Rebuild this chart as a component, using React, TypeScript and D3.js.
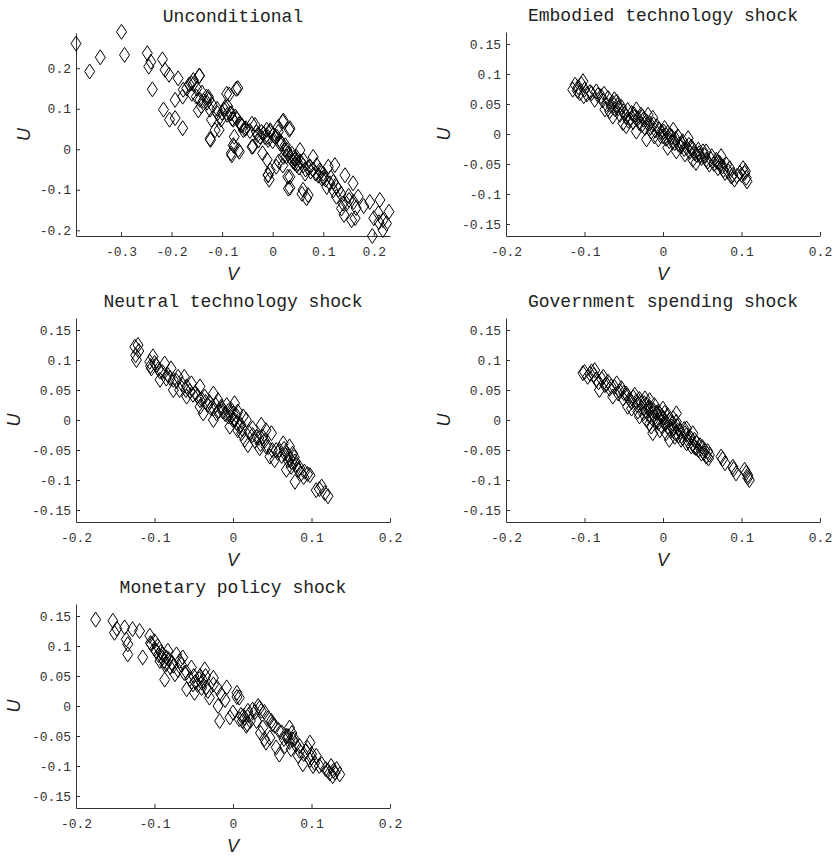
import React, { useEffect, useRef } from "react";
import * as d3 from "d3";

// titles of the five panels
const titles = [
  "Unconditional",
  "Embodied technology shock",
  "Neutral technology shock",
  "Government spending shock",
  "Monetary policy shock",
];

// [V, U] pairs
const unconditional: [number, number][] = [
  [-0.389, 0.261], [-0.362, 0.192], [-0.341, 0.227], [-0.299, 0.29], [-0.293, 0.233],
  [-0.248, 0.237], [-0.245, 0.204], [-0.241, 0.216], [-0.238, 0.148], [-0.218, 0.222],
  [-0.213, 0.196], [-0.205, 0.184], [-0.216, 0.098], [-0.204, 0.073], [-0.193, 0.077],
  [-0.193, 0.122], [-0.178, 0.052], [-0.187, 0.175], [-0.177, 0.147], [-0.178, 0.13],
  [-0.161, 0.163], [-0.157, 0.171], [-0.145, 0.181], [-0.151, 0.13], [-0.144, 0.122],
  [-0.141, 0.106], [-0.131, 0.13], [-0.126, 0.122], [-0.124, 0.098], [-0.121, 0.073],
  [-0.123, 0.023], [-0.109, 0.089], [-0.106, 0.048], [-0.102, 0.073], [-0.096, 0.098],
  [-0.086, 0.135], [-0.069, 0.151], [-0.089, 0.106], [-0.082, 0.089], [-0.078, 0.073],
  [-0.074, 0.081], [-0.082, -0.01], [-0.076, 0.007], [-0.066, -0.006], [-0.076, 0.031],
  [-0.063, 0.06], [-0.053, 0.052], [-0.039, 0.007], [-0.035, 0.06], [-0.032, 0.043],
  [-0.025, 0.031], [-0.018, 0.039], [-0.012, 0.048], [-0.009, 0.023], [-0.005, 0.043],
  [0.001, 0.035], [-0.011, -0.026], [-0.009, -0.063], [-0.007, -0.075], [0.008, 0.031],
  [0.011, 0.043], [0.02, 0.068], [0.034, 0.052], [0.014, 0.015], [0.024, -0.002],
  [0.027, -0.018], [0.03, -0.068], [0.034, -0.095], [0.041, -0.022],
  [-0.145, 0.182], [-0.157, 0.161], [-0.16, 0.137], [-0.137, 0.12], [-0.127, 0.129],
  [-0.147, 0.096], [-0.124, 0.026], [-0.114, 0.047], [-0.104, 0.08], [-0.091, 0.137],
  [-0.072, 0.149], [-0.094, 0.104], [-0.084, 0.088], [-0.071, 0.075], [-0.061, 0.059],
  [-0.081, -0.015], [-0.068, -0.002], [-0.078, 0.01], [-0.058, 0.047], [-0.041, 0.063],
  [-0.041, 0.006], [-0.028, 0.022], [-0.022, 0.043], [-0.009, 0.03], [-0.005, 0.047],
  [0.005, 0.03], [0.011, 0.055], [0.021, 0.071], [0.033, 0.048], [-0.009, -0.064],
  [-0.005, -0.052], [0.007, -0.043], [0.018, 0.014], [0.028, -0.002], [0.021, -0.019],
  [0.034, -0.068], [0.031, -0.097], [0.038, -0.011], [0.047, -0.019], [0.054, -0.002],
  [0.061, -0.027], [0.067, -0.121], [0.07, -0.113], [0.08, -0.019], [0.087, -0.039],
  [0.093, -0.052], [0.1, -0.06], [0.11, -0.043], [0.123, -0.039], [0.113, -0.084],
  [0.12, -0.101], [0.126, -0.117], [0.136, -0.146], [0.141, -0.162], [0.146, -0.134],
  [0.156, -0.175], [0.163, -0.17], [0.143, -0.064], [0.159, -0.084], [0.169, -0.117],
  [0.192, -0.13], [0.212, -0.125], [0.209, -0.158], [0.218, -0.175], [0.23, -0.154],
  [0.197, -0.214], [0.218, -0.199], [0.225, -0.183], [0.107, -0.093], [0.097, -0.072],
  [0.074, -0.043], [0.044, -0.035], [0.064, -0.06], [0.126, -0.093], [0.139, -0.134],
  [0.151, -0.125],
  [0.03, -0.01], [0.035, -0.02], [0.04, -0.03], [0.045, -0.025], [0.05, -0.035],
  [0.055, -0.03], [0.048, -0.04], [0.052, -0.045], [0.06, -0.04], [0.065, -0.05],
  [0.07, -0.045], [0.075, -0.055], [0.08, -0.05], [0.085, -0.06], [0.09, -0.065],
  [0.095, -0.055], [0.1, -0.07], [0.105, -0.075], [0.115, -0.07], [0.12, -0.08],
  [0.025, 0.01], [0.015, 0.02], [0.0, 0.02], [-0.015, 0.03], [-0.03, 0.035],
  [-0.045, 0.045], [-0.055, 0.05], [-0.065, 0.065], [-0.08, 0.075], [-0.09, 0.085],
  [-0.1, 0.09], [-0.11, 0.1], [-0.12, 0.11], [-0.13, 0.115], [-0.14, 0.14],
  [-0.15, 0.15], [-0.165, 0.16], [-0.17, 0.15], [0.13, -0.1], [0.135, -0.11],
  [0.15, -0.115], [0.16, -0.13], [0.165, -0.145], [0.18, -0.14], [0.2, -0.17],
  [0.21, -0.18], [0.012, -0.03], [0.02, -0.04], [-0.02, -0.01], [0.06, -0.1],
  [0.058, -0.11],
];

const embodied: [number, number][] = [
  [-0.115, 0.074], [-0.112, 0.082], [-0.108, 0.078], [-0.102, 0.088], [-0.1, 0.074],
  [-0.101, 0.063], [-0.106, 0.068], [-0.085, 0.071], [-0.087, 0.057], [-0.079, 0.063],
  [-0.07, 0.06], [-0.072, 0.049], [-0.068, 0.038], [-0.064, 0.052], [-0.059, 0.054],
  [-0.057, 0.043], [-0.055, 0.032], [-0.051, 0.038], [-0.051, 0.018], [-0.047, 0.029],
  [-0.042, 0.024], [-0.04, 0.035], [-0.036, 0.029], [-0.034, 0.041], [-0.03, 0.018],
  [-0.028, 0.032], [-0.025, 0.024], [-0.023, 0.01], [-0.019, 0.032], [-0.017, 0.018],
  [-0.013, 0.027], [-0.015, 0.004], [-0.008, 0.013], [-0.006, -0.009], [-0.002, 0.004],
  [0.0, -0.004], [0.002, 0.01], [0.006, 0.002], [0.008, -0.012], [0.011, -0.004],
  [0.006, -0.023], [0.015, -0.015], [0.019, -0.004], [0.023, -0.021], [0.025, -0.012],
  [0.03, -0.023], [0.032, -0.007], [0.028, -0.034], [0.036, -0.021], [0.04, -0.032],
  [0.045, -0.026], [0.047, -0.037], [0.042, -0.048], [0.051, -0.029], [0.055, -0.043],
  [0.059, -0.051], [0.062, -0.037], [0.068, -0.043], [0.072, -0.048], [0.07, -0.057],
  [0.076, -0.054], [0.081, -0.051], [0.079, -0.065], [0.085, -0.057], [0.087, -0.071],
  [0.091, -0.076], [0.098, -0.065], [0.102, -0.057], [0.104, -0.065], [0.106, -0.073],
  [0.107, -0.079], [0.074, -0.037], [0.055, -0.029], [0.038, -0.043], [0.017, -0.029],
  [0.013, 0.007], [-0.011, -0.004], [-0.021, -0.009], [-0.034, 0.004], [-0.047, 0.013],
  [-0.064, 0.029], [-0.074, 0.041], [-0.091, 0.068],
  [-0.109, 0.072], [-0.104, 0.083], [-0.097, 0.066], [-0.093, 0.07], [-0.083, 0.065],
  [-0.077, 0.056], [-0.075, 0.067], [-0.066, 0.047], [-0.062, 0.058], [-0.061, 0.041],
  [-0.058, 0.048], [-0.053, 0.045], [-0.049, 0.034], [-0.045, 0.04], [-0.044, 0.022],
  [-0.038, 0.02], [-0.037, 0.033], [-0.032, 0.026], [-0.027, 0.015], [-0.026, 0.029],
  [-0.021, 0.021], [-0.016, 0.011], [-0.012, 0.016], [-0.01, 0.006], [-0.005, 0.008],
  [-0.003, -0.003], [0.001, 0.004], [0.004, -0.008], [0.009, -0.002], [0.012, -0.013],
  [0.016, -0.008], [0.02, -0.018], [0.024, -0.016], [0.027, -0.025], [0.033, -0.018],
  [0.034, -0.03], [0.038, -0.025], [0.043, -0.035], [0.046, -0.032], [0.049, -0.04],
  [0.053, -0.036], [0.057, -0.046], [0.061, -0.042], [0.065, -0.05], [0.069, -0.047],
  [0.073, -0.052], [0.077, -0.06], [0.083, -0.062], [0.089, -0.068], [0.094, -0.07],
  [0.1, -0.068], [0.105, -0.062],
];

const neutral: [number, number][] = [
  [-0.125, 0.122], [-0.121, 0.125], [-0.124, 0.108], [-0.123, 0.1], [-0.106, 0.097],
  [-0.104, 0.086], [-0.102, 0.106], [-0.098, 0.092], [-0.093, 0.081], [-0.087, 0.094],
  [-0.085, 0.069], [-0.079, 0.086], [-0.076, 0.067], [-0.07, 0.072], [-0.068, 0.05],
  [-0.062, 0.072], [-0.059, 0.056], [-0.053, 0.061], [-0.051, 0.042], [-0.042, 0.056],
  [-0.042, 0.033], [-0.036, 0.039], [-0.038, 0.011], [-0.032, 0.025], [-0.025, 0.044],
  [-0.025, 0.019], [-0.021, 0.011], [-0.019, 0.033], [-0.015, 0.022], [-0.013, 0.014],
  [-0.008, 0.025], [-0.006, 0.006], [-0.004, -0.011], [-0.002, 0.017], [0.002, 0.028],
  [0.002, 0.0], [0.006, 0.014], [0.006, -0.017], [0.011, -0.022], [0.013, 0.006],
  [0.017, 0.0], [0.015, -0.033], [0.019, -0.042], [0.025, -0.014], [0.03, -0.028],
  [0.036, -0.008], [0.038, -0.028], [0.034, -0.047], [0.042, -0.044], [0.049, -0.022],
  [0.047, -0.061], [0.053, -0.067], [0.059, -0.05], [0.064, -0.039], [0.066, -0.056],
  [0.07, -0.067], [0.072, -0.044], [0.074, -0.078], [0.076, -0.056], [0.079, -0.069],
  [0.079, -0.103], [0.083, -0.083], [0.087, -0.089], [0.091, -0.086], [0.098, -0.092],
  [0.106, -0.117], [0.113, -0.111], [0.121, -0.127], [-0.025, 0.0], [-0.042, 0.022],
  [-0.059, 0.039], [-0.076, 0.05], [-0.093, 0.067], [0.0, 0.011], [0.008, -0.011],
  [0.042, -0.017], [0.055, -0.05], [0.068, -0.083],
  [-0.12, 0.115], [-0.105, 0.09], [-0.1, 0.095], [-0.095, 0.085], [-0.09, 0.08],
  [-0.083, 0.075], [-0.08, 0.07], [-0.072, 0.065], [-0.065, 0.06], [-0.06, 0.05],
  [-0.055, 0.048], [-0.048, 0.045], [-0.045, 0.04], [-0.04, 0.035], [-0.035, 0.03],
  [-0.03, 0.03], [-0.028, 0.02], [-0.022, 0.025], [-0.018, 0.015], [-0.014, 0.02],
  [-0.01, 0.01], [-0.006, 0.015], [-0.003, 0.005], [0.0, 0.0], [0.004, 0.008],
  [0.005, -0.005], [0.01, -0.008], [0.012, -0.015], [0.02, -0.02], [0.025, -0.025],
  [0.028, -0.035], [0.033, -0.03], [0.035, -0.04], [0.04, -0.035], [0.045, -0.045],
  [0.05, -0.05], [0.057, -0.055], [0.062, -0.06], [0.065, -0.048], [0.07, -0.058],
  [0.073, -0.065], [0.075, -0.07], [0.078, -0.062], [0.08, -0.075], [0.085, -0.08],
  [0.09, -0.095], [0.095, -0.09], [0.11, -0.115], [0.117, -0.122],
];

const government: [number, number][] = [
  [-0.102, 0.078], [-0.096, 0.072], [-0.091, 0.081], [-0.087, 0.083], [-0.085, 0.067],
  [-0.076, 0.072], [-0.074, 0.058], [-0.07, 0.064], [-0.066, 0.056], [-0.059, 0.061],
  [-0.057, 0.044], [-0.053, 0.053], [-0.051, 0.036], [-0.047, 0.044], [-0.042, 0.033],
  [-0.04, 0.019], [-0.036, 0.042], [-0.034, 0.031], [-0.032, 0.014], [-0.028, 0.028],
  [-0.025, 0.011], [-0.023, 0.036], [-0.021, 0.0], [-0.019, 0.019], [-0.017, 0.033],
  [-0.015, -0.011], [-0.013, 0.011], [-0.011, 0.025], [-0.008, -0.003], [-0.006, 0.014],
  [-0.004, -0.017], [-0.002, 0.006], [0.0, 0.019], [0.002, -0.006], [0.004, -0.022],
  [0.006, 0.008], [0.011, -0.011], [0.015, -0.028], [0.017, -0.003], [0.021, -0.017],
  [0.023, -0.033], [0.028, -0.022], [0.03, -0.039], [0.034, -0.028], [0.036, -0.044],
  [0.04, -0.033], [0.042, -0.047], [0.047, -0.042], [0.049, -0.056], [0.053, -0.05],
  [0.055, -0.061], [0.059, -0.058], [0.074, -0.061], [0.079, -0.072], [0.089, -0.078],
  [0.093, -0.089], [0.104, -0.083], [0.108, -0.092], [0.11, -0.1], [0.017, 0.011],
  [0.013, 0.003], [-0.017, -0.006], [-0.03, 0.006], [-0.045, 0.022], [-0.064, 0.039],
  [0.03, -0.014], [0.038, -0.022], [-0.013, -0.022], [0.008, -0.033], [-0.081, 0.05],
  [-0.1, 0.08], [-0.093, 0.077], [-0.088, 0.075], [-0.082, 0.063], [-0.078, 0.068],
  [-0.072, 0.06], [-0.068, 0.052], [-0.062, 0.055], [-0.055, 0.048], [-0.05, 0.045],
  [-0.045, 0.04], [-0.04, 0.03], [-0.038, 0.038], [-0.033, 0.025], [-0.03, 0.035],
  [-0.027, 0.02], [-0.024, 0.028], [-0.022, 0.015], [-0.02, 0.025], [-0.018, 0.008],
  [-0.016, 0.02], [-0.014, 0.003], [-0.012, 0.016], [-0.01, 0.005], [-0.008, 0.012],
  [-0.006, -0.005], [-0.004, 0.01], [-0.002, -0.01], [0.0, 0.004], [0.002, 0.012],
  [0.004, -0.004], [0.006, -0.012], [0.008, 0.0], [0.01, -0.018], [0.012, -0.006],
  [0.014, -0.014], [0.016, -0.022], [0.018, -0.01], [0.02, -0.026], [0.022, -0.02],
  [0.025, -0.03], [0.027, -0.015], [0.03, -0.025], [0.032, -0.035], [0.035, -0.03],
  [0.038, -0.04], [0.04, -0.045], [0.043, -0.038], [0.045, -0.05], [0.05, -0.045],
  [0.052, -0.055], [0.057, -0.052], [0.058, -0.064], [0.076, -0.065], [0.09, -0.082],
  [0.106, -0.088], [0.108, -0.096],
];

const monetary: [number, number][] = [
  [-0.175, 0.144], [-0.153, 0.142], [-0.151, 0.122], [-0.148, 0.129], [-0.138, 0.131],
  [-0.136, 0.111], [-0.134, 0.103], [-0.134, 0.086], [-0.128, 0.128], [-0.119, 0.125],
  [-0.115, 0.081], [-0.106, 0.117], [-0.104, 0.103], [-0.1, 0.108], [-0.098, 0.092],
  [-0.096, 0.1], [-0.093, 0.075], [-0.089, 0.086], [-0.087, 0.069], [-0.085, 0.081],
  [-0.083, 0.092], [-0.087, 0.044], [-0.076, 0.067], [-0.074, 0.053], [-0.072, 0.086],
  [-0.066, 0.069], [-0.064, 0.081], [-0.059, 0.056], [-0.059, 0.028], [-0.053, 0.064],
  [-0.051, 0.036], [-0.049, 0.022], [-0.042, 0.05], [-0.04, 0.039], [-0.036, 0.061],
  [-0.034, 0.031], [-0.03, 0.014], [-0.025, 0.047], [-0.025, 0.036], [-0.019, 0.0],
  [-0.015, 0.019], [-0.017, -0.025], [-0.008, 0.031], [-0.004, -0.019], [0.0, -0.011],
  [0.005, 0.022], [0.008, 0.014], [0.008, -0.022], [0.013, -0.017], [0.017, -0.033],
  [0.019, -0.008], [0.025, -0.006], [0.03, -0.025], [0.032, 0.0], [0.036, -0.008],
  [0.038, -0.036], [0.042, -0.061], [0.047, -0.053], [0.049, -0.025], [0.053, -0.033],
  [0.055, -0.069], [0.059, -0.081], [0.062, -0.044], [0.066, -0.067], [0.068, -0.05],
  [0.072, -0.036], [0.074, -0.072], [0.076, -0.056], [0.083, -0.083], [0.085, -0.067],
  [0.089, -0.097], [0.093, -0.075], [0.098, -0.061], [0.1, -0.086], [0.102, -0.1],
  [0.106, -0.083], [0.113, -0.097], [0.121, -0.108], [0.125, -0.1], [0.127, -0.117],
  [0.132, -0.105], [0.136, -0.114], [0.13, -0.111],
  [-0.09, 0.08], [-0.088, 0.075], [-0.085, 0.07], [-0.082, 0.078], [-0.08, 0.065],
  [-0.078, 0.072], [-0.092, 0.09], [-0.095, 0.085], [-0.1, 0.095], [-0.105, 0.105],
  [-0.07, 0.06], [-0.068, 0.075], [-0.062, 0.055], [-0.055, 0.045], [-0.05, 0.05],
  [-0.048, 0.04], [-0.045, 0.035], [-0.043, 0.045], [-0.04, 0.03], [-0.038, 0.042],
  [-0.035, 0.05], [-0.032, 0.025], [-0.02, 0.03], [-0.01, 0.01], [0.005, 0.015],
  [0.01, -0.015], [0.012, -0.025], [0.015, -0.02], [0.018, -0.03], [0.02, -0.015],
  [0.022, -0.025], [0.028, -0.01], [0.034, -0.003], [0.04, -0.01], [0.045, -0.02],
  [0.05, -0.03], [0.058, -0.04], [0.065, -0.055], [0.07, -0.05], [0.072, -0.06],
  [0.075, -0.045], [0.078, -0.055], [0.08, -0.065], [0.085, -0.075], [0.09, -0.08],
  [0.095, -0.07], [0.098, -0.09], [0.1, -0.08], [0.104, -0.095], [0.11, -0.1],
  [0.118, -0.105], [0.123, -0.112], [0.128, -0.108], [0.04, -0.055], [0.035, -0.045],
];

const ticksVWide = [-0.3, -0.2, -0.1, 0, 0.1, 0.2];
const ticksUWide = [-0.2, -0.1, 0, 0.1, 0.2];
const ticksV = [-0.2, -0.1, 0, 0.1, 0.2];
const ticksU = [-0.15, -0.1, -0.05, 0, 0.05, 0.1, 0.15];

// tall diamond like MATLAB's 'd' marker on this figure
const diamondType = {
  draw(ctx: any, size: number) {
    const hw = Math.sqrt(size) / 2;
    const hh = hw * 1.5;
    ctx.moveTo(0, -hh);
    ctx.lineTo(hw, 0);
    ctx.lineTo(0, hh);
    ctx.lineTo(-hw, 0);
    ctx.closePath();
  },
};

export default function App() {
  const ref = useRef<SVGSVGElement>(null);

  useEffect(() => {
    const svg = d3.select(ref.current);
    svg.selectAll("*").remove();

    const panels = [
      { title: titles[0], data: unconditional, left: 76, top: 33, bottom: 236, xDom: [-0.389, 0.232], yDom: [-0.214, 0.287], xTicks: ticksVWide, yTicks: ticksUWide, gap: 46 },
      { title: titles[1], data: embodied, left: 506, top: 32, bottom: 236, xDom: [-0.2, 0.2], yDom: [-0.17, 0.17], xTicks: ticksV, yTicks: ticksU, gap: 56 },
      { title: titles[2], data: neutral, left: 76, top: 318, bottom: 522, xDom: [-0.2, 0.2], yDom: [-0.17, 0.17], xTicks: ticksV, yTicks: ticksU, gap: 56 },
      { title: titles[3], data: government, left: 506, top: 318, bottom: 522, xDom: [-0.2, 0.2], yDom: [-0.17, 0.17], xTicks: ticksV, yTicks: ticksU, gap: 56 },
      { title: titles[4], data: monetary, left: 76, top: 604, bottom: 808, xDom: [-0.2, 0.2], yDom: [-0.17, 0.17], xTicks: ticksV, yTicks: ticksU, gap: 56 },
    ];
    const w = 314;
    const mono = "'Liberation Mono', 'Courier New', monospace";
    const sans = "'Liberation Sans', Arial, sans-serif";
    const marker = d3.symbol().type(diamondType as any).size(100);

    panels.forEach((p) => {
      const x = d3.scaleLinear().domain(p.xDom).range([p.left, p.left + w]);
      const y = d3.scaleLinear().domain(p.yDom).range([p.bottom, p.top]);
      const g = svg.append("g");

      g.append("g")
        .attr("transform", `translate(0,${p.bottom})`)
        .call(d3.axisBottom(x).tickValues(p.xTicks).tickFormat((d) => String(d)).tickSizeInner(-4).tickSizeOuter(0).tickPadding(11))
        .call((a) => a.attr("font-family", mono).attr("font-size", 13));

      g.append("g")
        .attr("transform", `translate(${p.left},0)`)
        .call(d3.axisLeft(y).tickValues(p.yTicks).tickFormat((d) => String(d)).tickSizeInner(-4).tickSizeOuter(0).tickPadding(5))
        .call((a) => a.attr("font-family", mono).attr("font-size", 13));

      g.selectAll(".domain, .tick line").attr("stroke", "#333");
      g.selectAll(".tick text").attr("fill", "#333");

      g.selectAll(".pt")
        .data(p.data)
        .enter()
        .append("path")
        .attr("class", "pt")
        .attr("transform", (d) => `translate(${x(d[0])},${y(d[1])})`)
        .attr("d", marker)
        .attr("fill", "none")
        .attr("stroke", "#000")
        .attr("stroke-width", 1);

      g.append("text")
        .attr("x", p.left + w / 2)
        .attr("y", p.top - 11)
        .attr("text-anchor", "middle")
        .attr("font-family", mono)
        .attr("font-size", 18)
        .attr("fill", "#222")
        .text(p.title);

      g.append("text")
        .attr("x", p.left + w / 2)
        .attr("y", p.bottom + 44)
        .attr("text-anchor", "middle")
        .attr("font-family", sans)
        .attr("font-style", "italic")
        .attr("font-size", 18)
        .attr("fill", "#222")
        .text("V");

      g.append("text")
        .attr("transform", `translate(${p.left - p.gap},${(p.top + p.bottom) / 2}) rotate(-90)`)
        .attr("text-anchor", "middle")
        .attr("font-family", sans)
        .attr("font-style", "italic")
        .attr("font-size", 18)
        .attr("fill", "#222")
        .text("U");
    });
  }, []);

  return (
    <>
      <style>{"body{margin:0}"}</style>
      <svg ref={ref} width={836} height={857} style={{ display: "block" }} />
    </>
  );
}
